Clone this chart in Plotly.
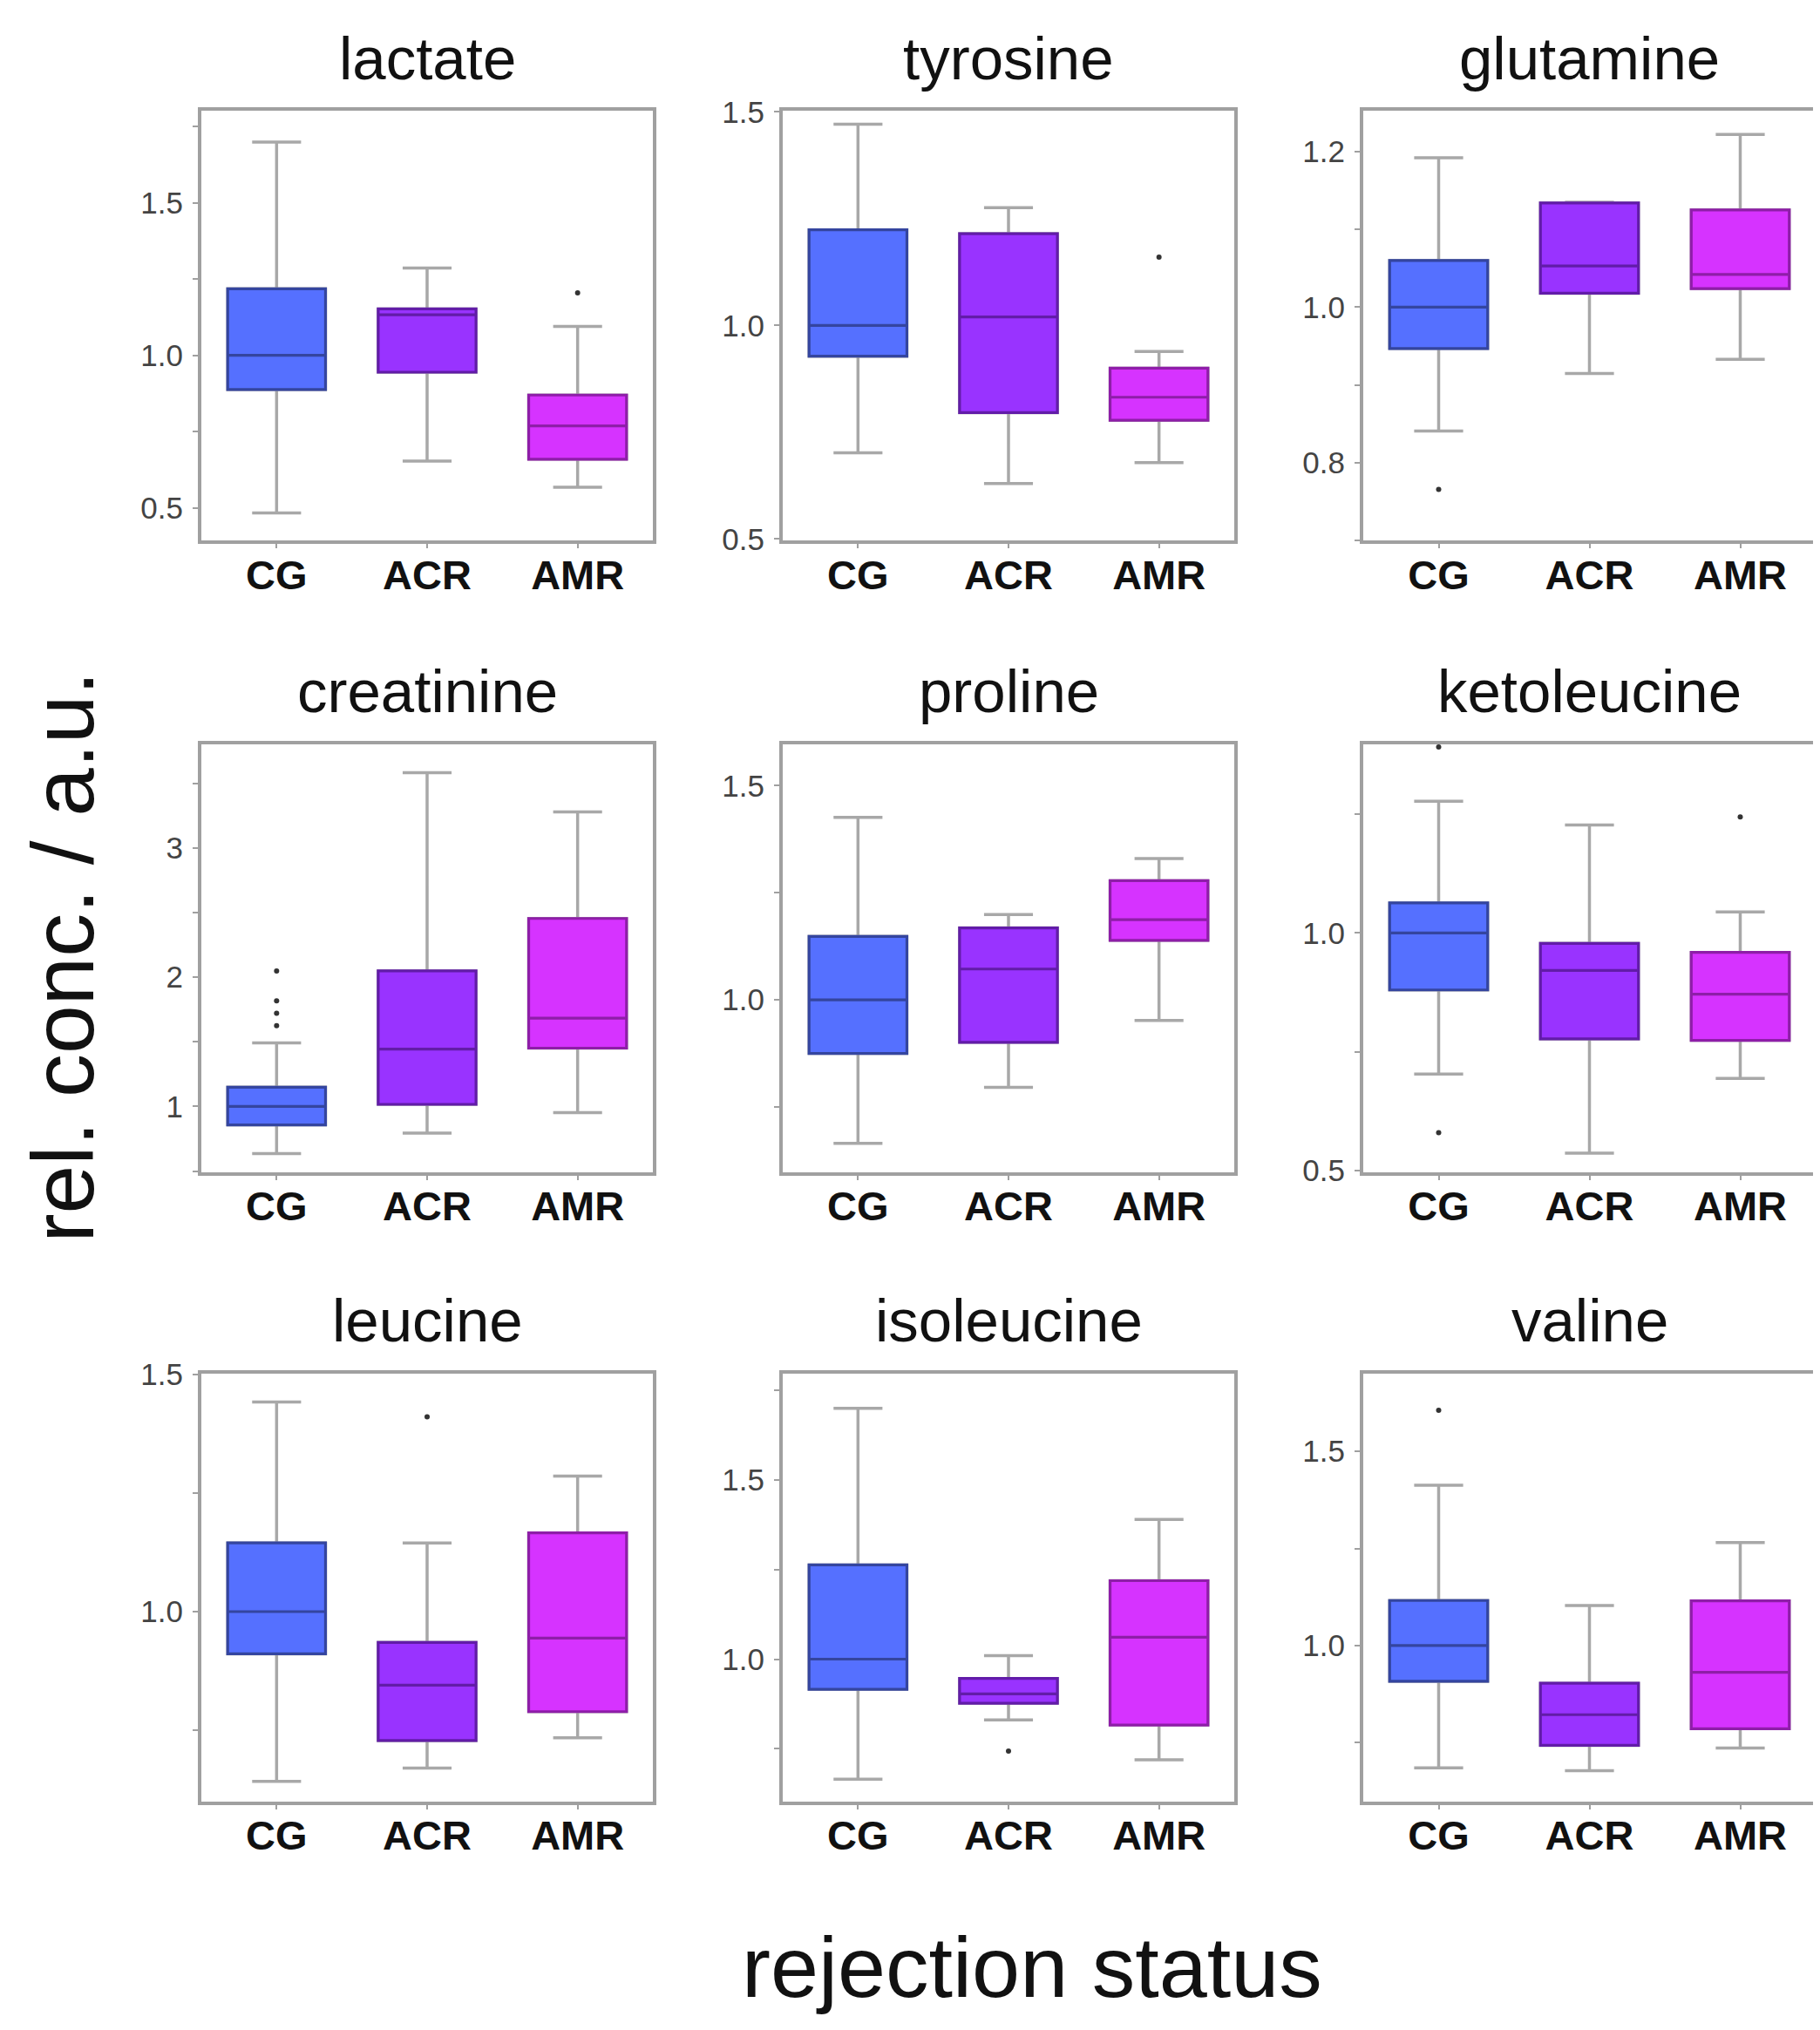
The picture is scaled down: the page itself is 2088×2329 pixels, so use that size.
import plotly.graph_objects as go

# ---------------- data ----------------
metabolites = ["lactate", "tyrosine", "glutamine",
               "creatinine", "proline", "ketoleucine",
               "leucine", "isoleucine", "valine"]
groups = ["CG", "ACR", "AMR"]

CG_lower  = [0.484, 0.702, 0.841, 0.635, 0.665, 0.703, 0.642, 0.665, 0.685]
CG_q1     = [0.888, 0.928, 0.947, 0.857, 0.875, 0.880, 0.911, 0.916, 0.908]
CG_median = [1.000, 1.000, 1.000, 1.000, 1.000, 1.000, 1.000, 1.000, 1.000]
CG_q3     = [1.218, 1.224, 1.060, 1.149, 1.148, 1.063, 1.145, 1.263, 1.116]
CG_upper  = [1.698, 1.471, 1.192, 1.492, 1.426, 1.277, 1.442, 1.700, 1.413]

ACR_lower  = [0.654, 0.630, 0.915, 0.794, 0.796, 0.537, 0.670, 0.830, 0.678]
ACR_q1     = [0.945, 0.796, 1.018, 1.016, 0.901, 0.777, 0.728, 0.877, 0.743]
ACR_median = [1.133, 1.020, 1.053, 1.444, 1.072, 0.921, 0.845, 0.903, 0.822]
ACR_q3     = [1.152, 1.215, 1.134, 2.048, 1.168, 0.978, 0.935, 0.946, 0.903]
ACR_upper  = [1.286, 1.276, 1.135, 3.581, 1.199, 1.227, 1.145, 1.010, 1.103]

AMR_lower  = [0.568, 0.679, 0.933, 0.952, 0.952, 0.694, 0.734, 0.719, 0.736]
AMR_q1     = [0.660, 0.778, 1.024, 1.451, 1.139, 0.774, 0.789, 0.816, 0.786]
AMR_median = [0.769, 0.832, 1.042, 1.683, 1.187, 0.871, 0.944, 1.061, 0.931]
AMR_q3     = [0.870, 0.900, 1.125, 2.454, 1.278, 0.959, 1.166, 1.219, 1.115]
AMR_upper  = [1.095, 0.939, 1.222, 3.279, 1.330, 1.044, 1.286, 1.390, 1.265]

CG_outliers  = [[], [], [0.766], [2.048, 1.816, 1.721, 1.625], [], [1.391, 0.580], [], [], [1.606]]
ACR_outliers = [[], [], [], [], [], [], [1.411], [0.743], []]
AMR_outliers = [[1.205], [1.160], [], [], [], [1.244], [], [], []]

# axis ranges / tick steps per panel
y_min   = [0.393, 0.496, 0.700, 0.492, 0.598, 0.497, 0.599, 0.602, 0.598]
y_max   = [1.800, 1.502, 1.252, 3.803, 1.597, 1.397, 1.502, 1.797, 1.700]
y_dtick = [0.5, 0.5, 0.2, 1.0, 0.5, 0.5, 0.5, 0.5, 0.5]
y_minor = [0.25, None, 0.1, 0.5, 0.25, 0.25, 0.25, 0.25, 0.25]
y_fmt   = [".1f", ".1f", ".1f", "d", ".1f", ".1f", ".1f", ".1f", ".1f"]

# ---------------- style ----------------
W, H = 2088, 2329
cols = [(223, 741), (890, 1408), (1556, 2075)]
rows = [(102, 603), (840, 1339), (1574, 2073)]

fill = {"CG": "#5570FF", "ACR": "#9933FF", "AMR": "#D633FF"}
edge = {"CG": "#34459F", "ACR": "#621CA8", "AMR": "#8E1EA8"}
whisker_color = "#A8A8A8"
frame_color = "#A0A0A0"
FONT = "Liberation Sans, Arial, sans-serif"

stats = {
    "CG": (CG_lower, CG_q1, CG_median, CG_q3, CG_upper, CG_outliers),
    "ACR": (ACR_lower, ACR_q1, ACR_median, ACR_q3, ACR_upper, ACR_outliers),
    "AMR": (AMR_lower, AMR_q1, AMR_median, AMR_q3, AMR_upper, AMR_outliers),
}

fig = go.Figure()
annotations = []

for i, name in enumerate(metabolites):
    r, c = divmod(i, 3)
    ax = "" if i == 0 else str(i + 1)
    xref, yref = "x" + ax, "y" + ax
    for g in groups:
        lo, q1, md, q3, up, outl = stats[g]
        # whiskers (grey)
        fig.add_trace(go.Box(
            x=[g], lowerfence=[lo[i]], q1=[q1[i]], median=[md[i]], q3=[q3[i]],
            upperfence=[up[i]], width=0.65, whiskerwidth=0.5,
            line=dict(color=whisker_color, width=3.5), fillcolor=fill[g],
            boxpoints=False, showlegend=False, hoverinfo="skip",
            xaxis=xref, yaxis=yref))
        # coloured box + median
        fig.add_trace(go.Box(
            x=[g], lowerfence=[q1[i]], q1=[q1[i]], median=[md[i]], q3=[q3[i]],
            upperfence=[q3[i]], width=0.65, whiskerwidth=0,
            line=dict(color=edge[g], width=3.2), fillcolor=fill[g],
            boxpoints=False, showlegend=False, hoverinfo="skip",
            xaxis=xref, yaxis=yref))
        if outl[i]:
            fig.add_trace(go.Scatter(
                x=[g] * len(outl[i]), y=outl[i], mode="markers",
                marker=dict(color="#333333", size=6),
                showlegend=False, hoverinfo="skip", xaxis=xref, yaxis=yref))

    x0, x1 = cols[c]
    y0, y1 = rows[r]
    axis_common = dict(showline=True, mirror=True, linecolor=frame_color, linewidth=4,
                       showgrid=False, zeroline=False, ticks="outside",
                       tickwidth=2, tickcolor=frame_color)
    fig.layout["xaxis" + ax] = dict(
        axis_common, domain=[x0 / W, x1 / W], anchor=yref, ticklen=5,
        type="category", categoryorder="array", categoryarray=groups,
        range=[-0.5, 2.5], ticklabelstandoff=-10,
        tickfont=dict(family=FONT, size=47, color="#111111", weight="bold"))
    yax = dict(
        axis_common, domain=[1 - y1 / H, 1 - y0 / H], anchor=xref, ticklen=6,
        range=[y_min[i], y_max[i]], tick0=0, dtick=y_dtick[i],
        tickformat=y_fmt[i], ticklabelstandoff=4,
        tickfont=dict(family=FONT, size=35, color="#444444"))
    if y_minor[i] is not None:
        yax["minor"] = dict(dtick=y_minor[i], tick0=0, ticks="outside", ticklen=6,
                            tickwidth=2, tickcolor=frame_color, showgrid=False)
    fig.layout["yaxis" + ax] = yax

    annotations.append(dict(
        text=name, xref="paper", yref="paper",
        x=(x0 + x1) / 2 / W, y=1 - (y0 - 20) / H,
        xanchor="center", yanchor="bottom", showarrow=False,
        font=dict(family=FONT, size=69, color="#111111")))

annotations.append(dict(
    text="rel. conc. / a.u.", xref="paper", yref="paper",
    x=64 / W, y=1 - 1088 / H, xanchor="center", yanchor="middle",
    textangle=-90, showarrow=False,
    font=dict(family=FONT, size=100, color="#111111")))
annotations.append(dict(
    text="rejection status", xref="paper", yref="paper",
    x=1176 / W, y=1 - 2265 / H, xanchor="center", yanchor="middle",
    showarrow=False, font=dict(family=FONT, size=99, color="#111111")))

fig.update_layout(
    width=W, height=H, margin=dict(l=0, r=0, t=0, b=0),
    paper_bgcolor="white", plot_bgcolor="white",
    boxmode="overlay", annotations=annotations,
    font=dict(family=FONT))

fig.write_html("out.html")
